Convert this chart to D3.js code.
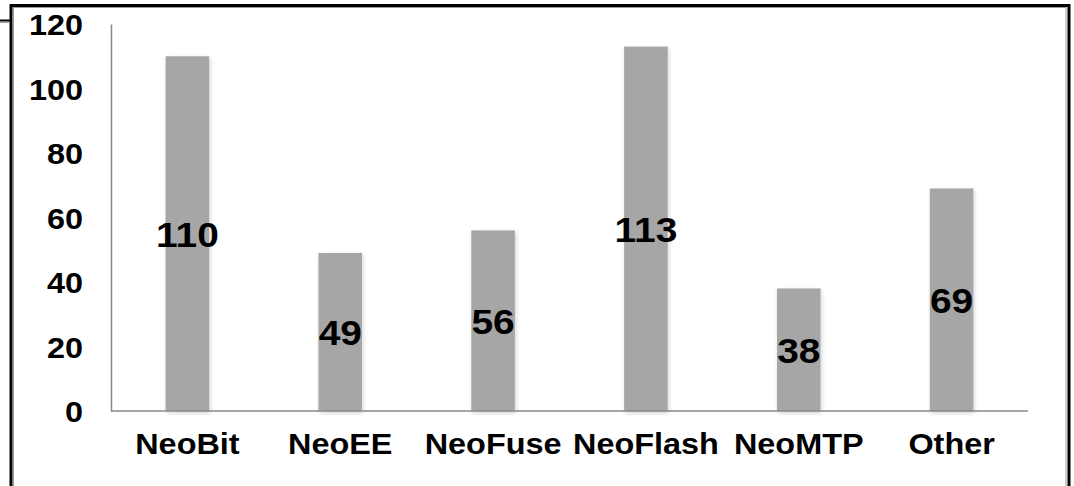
<!DOCTYPE html>
<html>
<head>
<meta charset="utf-8">
<script src="https://cdn.jsdelivr.net/npm/d3@7"></script>
<style>
  html, body { margin: 0; padding: 0; background: #fff; }
  svg { display: block; }
  text { font-family: "Liberation Sans", Arial, sans-serif; font-weight: bold; fill: #000; }
</style>
</head>
<body>
<svg id="chart" width="1074" height="486"></svg>
<script>
const categories = ["NeoBit", "NeoEE", "NeoFuse", "NeoFlash", "NeoMTP", "Other"];
const values = [110, 49, 56, 113, 38, 69];
const yTicks = [0, 20, 40, 60, 80, 100, 120];

const svg = d3.select("#chart");
const plot = { left: 111, right: 1028, top: 24, bottom: 411 };
const SX = 1.08;

// drop shadow filter
const defs = svg.append("defs");
const f = defs.append("filter").attr("id", "shadow")
  .attr("x", "-30%").attr("y", "-5%").attr("width", "160%").attr("height", "115%");
f.append("feDropShadow").attr("dx", 1).attr("dy", 2).attr("stdDeviation", 2)
  .attr("flood-color", "#000").attr("flood-opacity", 0.18);

// frame
svg.append("rect").attr("x", 11).attr("y", 5.5).attr("width", 1058).attr("height", 500)
  .attr("fill", "none").attr("stroke", "#000").attr("stroke-width", 3);
svg.append("rect").attr("x", 13.5).attr("y", 7.5).attr("width", 1052.5).attr("height", 500)
  .attr("fill", "none").attr("stroke", "#999").attr("stroke-width", 1);
svg.append("line").attr("x1", 0).attr("x2", 10).attr("y1", 20.5).attr("y2", 20.5)
  .attr("stroke", "#000").attr("stroke-width", 2);
svg.append("line").attr("x1", 0).attr("x2", 10).attr("y1", 22.5).attr("y2", 22.5)
  .attr("stroke", "#999").attr("stroke-width", 1);

const x = d3.scaleBand().domain(categories).range([plot.left, plot.right]).paddingInner(0.715).paddingOuter(0.3575);
const y = d3.scaleLinear().domain([0, 120]).range([plot.bottom, plot.top]);

// bars
svg.append("g").selectAll("rect").data(values).join("rect")
  .attr("x", (d, i) => x(categories[i]))
  .attr("y", d => y(d))
  .attr("width", x.bandwidth())
  .attr("height", d => y(0) - y(d))
  .attr("fill", "#a6a6a6")
  .attr("filter", "url(#shadow)");

// axes
const yAxis = d3.axisLeft(y).tickValues(yTicks).tickSize(0).tickPadding(28 / SX);
const gy = svg.append("g").attr("transform", `translate(${plot.left},0)`).call(yAxis);
gy.select(".domain").attr("stroke", "#888").attr("stroke-width", 1.5);
gy.selectAll("text").attr("font-size", 30).attr("font-family", "Liberation Sans, Arial, sans-serif")
  .attr("font-weight", "bold").attr("fill", "#000").attr("dy", "0.36em")
  .attr("transform", `scale(${SX},1)`);

const xAxis = d3.axisBottom(x).tickSize(0).tickPadding(0);
const gx = svg.append("g").attr("transform", `translate(0,${plot.bottom})`).call(xAxis);
gx.select(".domain").attr("stroke", "#888").attr("stroke-width", 1.5)
  .attr("d", `M${plot.left},0H${plot.right}`);
gx.selectAll("text").attr("font-size", 30).attr("font-family", "Liberation Sans, Arial, sans-serif")
  .attr("font-weight", "bold").attr("fill", "#000").attr("y", 43).attr("dy", 0)
  .attr("transform", `scale(${SX},1)`);

// data labels
svg.append("g").selectAll("g").data(values).join("g")
  .attr("transform", (d, i) => `translate(${x(categories[i]) + x.bandwidth() / 2},${(y(d) + y(0)) / 2}) scale(${SX},1)`)
  .append("text")
  .attr("dy", "0.36em")
  .attr("text-anchor", "middle")
  .attr("font-size", 36)
  .text(d => d);
</script>
</body>
</html>
